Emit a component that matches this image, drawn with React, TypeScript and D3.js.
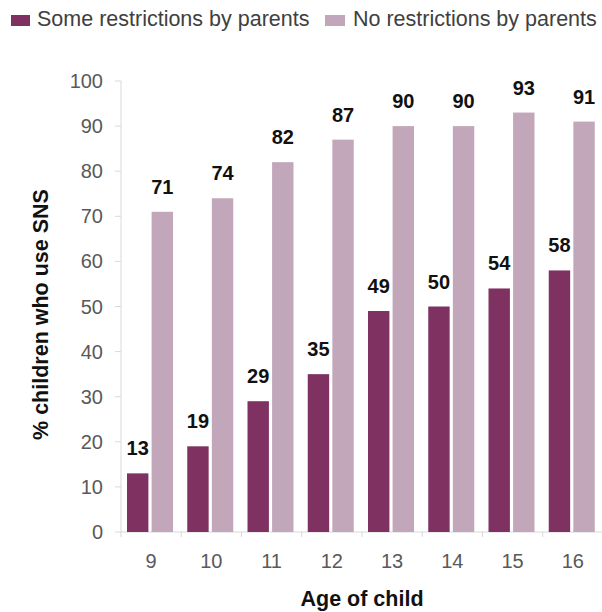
import React from "react";
import * as d3 from "d3";

const ages = ["9", "10", "11", "12", "13", "14", "15", "16"];
const someRestrictions = [13, 19, 29, 35, 49, 50, 54, 58];
const noRestrictions = [71, 74, 82, 87, 90, 90, 93, 91];
const seriesNames = ["Some restrictions by parents", "No restrictions by parents"];
const seriesColors = ["#7f3162", "#c1a7b9"];
const yTicks = [0, 10, 20, 30, 40, 50, 60, 70, 80, 90, 100];

const W = 602;
const H = 612;
const left = 121;
const right = 603;
const top = 81;
const bottom = 532;
const FONT = "'Liberation Sans', Arial, sans-serif";

export default function App() {
  const x0 = d3.scaleBand<string>().domain(ages).range([left, right]).padding(0);
  const x1 = d3
    .scaleBand<number>()
    .domain([0, 1])
    .range([6, 52])
    .paddingInner(0.13);
  const y = d3.scaleLinear().domain([0, 100]).range([bottom, top]);
  const data = [someRestrictions, noRestrictions];

  return (
    <svg
      width={W}
      height={H}
      style={{ position: "absolute", left: 0, top: 0, background: "#fff" }}
      fontFamily={FONT}
    >
      {/* legend */}
      <rect x={11} y={15} width={19} height={11} fill={seriesColors[0]} />
      <text x={37} y={26} fontSize={21.5} fill="#404040">
        {seriesNames[0]}
      </text>
      <rect x={325} y={15} width={20} height={11} fill={seriesColors[1]} />
      <text x={353} y={26} fontSize={21.5} fill="#404040">
        {seriesNames[1]}
      </text>

      {/* y axis */}
      <line x1={left} x2={left} y1={top} y2={bottom} stroke="#d9d9d9" strokeWidth={1} />
      {yTicks.map((t) => (
        <g key={t}>
          <line x1={left - 6} x2={left} y1={y(t)} y2={y(t)} stroke="#d9d9d9" />
          <text
            x={103}
            y={y(t) + 7}
            fontSize={20}
            textAnchor="end"
            fill="#595959"
          >
            {t}
          </text>
        </g>
      ))}

      {/* x axis */}
      <line x1={left} x2={right} y1={bottom} y2={bottom} stroke="#d9d9d9" />
      {ages.map((a) => (
        <line
          key={"t" + a}
          x1={x0(a)!}
          x2={x0(a)!}
          y1={bottom}
          y2={bottom + 5}
          stroke="#d9d9d9"
        />
      ))}
      {ages.map((a) => (
        <text
          key={"l" + a}
          x={x0(a)! + x0.bandwidth() / 2}
          y={568}
          fontSize={20}
          textAnchor="middle"
          fill="#595959"
        >
          {a}
        </text>
      ))}

      {/* bars */}
      {data.map((series, si) =>
        series.map((v, i) => {
          const bx = x0(ages[i])! + x1(si)!;
          return (
            <g key={si + "-" + i}>
              <rect
                x={bx}
                y={y(v)}
                width={x1.bandwidth()}
                height={bottom - y(v)}
                fill={seriesColors[si]}
              />
              <text
                x={bx + x1.bandwidth() / 2}
                y={y(v) - 18}
                fontSize={20}
                fontWeight="bold"
                textAnchor="middle"
                fill="#111"
              >
                {v}
              </text>
            </g>
          );
        })
      )}

      {/* axis titles */}
      <text
        x={362}
        y={606}
        fontSize={21.5}
        fontWeight="bold"
        textAnchor="middle"
        fill="#111"
      >
        Age of child
      </text>
      <text
        transform={`translate(48, ${(top + bottom) / 2 + 8}) rotate(-90)`}
        fontSize={21.5}
        fontWeight="bold"
        textAnchor="middle"
        fill="#111"
      >
        % children who use SNS
      </text>
    </svg>
  );
}
